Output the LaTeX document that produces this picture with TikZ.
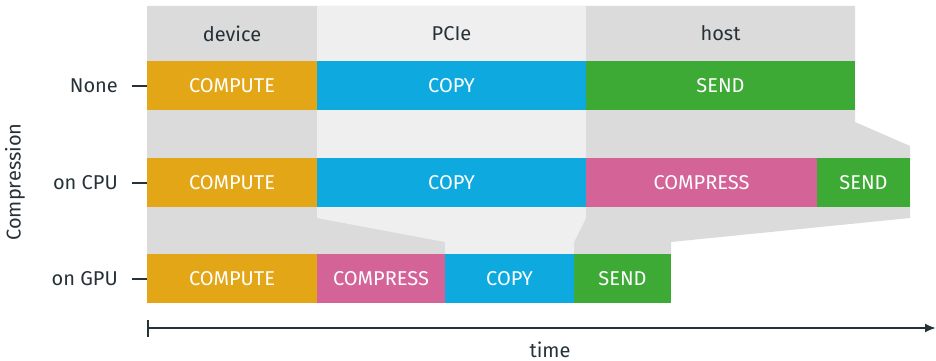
\documentclass[tikz,border=0pt]{standalone}
\usepackage{fontspec}
\setmainfont{Fira Sans}
\usetikzlibrary{arrows.meta}
\definecolor{cCompute}{HTML}{E3A617}
\definecolor{cCopy}{HTML}{0DA9DF}
\definecolor{cSend}{HTML}{3EAA36}
\definecolor{cCompress}{HTML}{D46398}
\definecolor{cBg}{HTML}{DBDBDB}
\definecolor{cBgLight}{HTML}{EFEFEF}
\definecolor{cInk}{HTML}{263238}
\tikzset{
  txt/.style={font=\fontsize{20}{24}\selectfont},
  bar/.style={txt, rectangle, inner sep=0pt, outer sep=0pt, minimum height=49pt,
    text=white},
  lane/.style={txt, text=cInk},
  rowlabel/.style={txt, text=cInk, anchor=east, inner sep=0pt},
  tick/.style={draw=cInk, line width=2pt, shorten <=14pt},
}
\begin{document}
\begin{tikzpicture}[x=1pt, y=-1pt]
\useasboundingbox (0,0) rectangle (936,361);

% lane backgrounds
\fill[cBg] (147,6) -- (855,6) -- (855,122) -- (910,146) -- (910,218)
  -- (671,242) -- (671,254) -- (147,254) -- cycle;
\fill[cBgLight] (317,6) -- (586,6) -- (586,218) -- (574,242) -- (574,254)
  -- (445,254) -- (445,242) -- (317,218) -- cycle;

\node[lane] (device) at (232,33.5) {device};
\node[lane] (pcie) at (451.5,33.5) {PCIe};
\node[lane] (host) at (720.5,33.5) {host};

% row: no compression
\node[bar, fill=cCompute, minimum width=170pt] (a1) at (232,85.5) {COMPUTE};
\node[bar, fill=cCopy, minimum width=269pt] (a2) at (451.5,85.5) {COPY};
\node[bar, fill=cSend, minimum width=269pt] (a3) at (720.5,85.5) {SEND};

% row: compression on CPU
\node[bar, fill=cCompute, minimum width=170pt] (b1) at (232,182.5) {COMPUTE};
\node[bar, fill=cCopy, minimum width=269pt] (b2) at (451.5,182.5) {COPY};
\node[bar, fill=cCompress, minimum width=231pt] (b3) at (701.5,182.5) {COMPRESS};
\node[bar, fill=cSend, minimum width=93pt] (b4) at (863.5,182.5) {SEND};

% row: compression on GPU
\node[bar, fill=cCompute, minimum width=170pt] (c1) at (232,278.5) {COMPUTE};
\node[bar, fill=cCompress, minimum width=128pt] (c2) at (381,278.5) {COMPRESS};
\node[bar, fill=cCopy, minimum width=129pt] (c3) at (509.5,278.5) {COPY};
\node[bar, fill=cSend, minimum width=97pt] (c4) at (622.5,278.5) {SEND};

% row labels with ticks
\node[rowlabel] (lnone) at (118,85.5) {None};
\node[rowlabel] (lcpu) at (118,182.5) {on CPU};
\node[rowlabel] (lgpu) at (118,278.5) {on GPU};
\draw[tick] (lnone.east) -- (a1.west);
\draw[tick] (lcpu.east) -- (b1.west);
\draw[tick] (lgpu.east) -- (c1.west);

\node[lane, rotate=90] (ylab) at (15,182) {Compression};

% time axis
\coordinate (t0) at (147,328);
\coordinate (t1) at (936,328);
\draw[cInk, line width=2pt, {Bar[width=17pt]}-{Latex[length=11pt,width=9pt]}] (t0) -- (t1);
\node[lane] (time) at (550,350) {time};
\end{tikzpicture}
\end{document}
